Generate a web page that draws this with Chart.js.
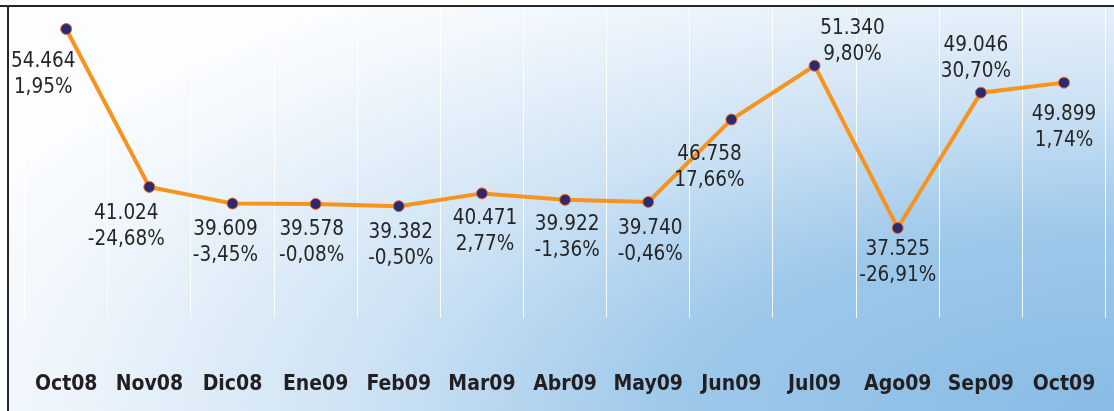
<!DOCTYPE html>
<html>
<head>
<meta charset="utf-8">
<script src="https://cdn.jsdelivr.net/npm/chart.js@4/dist/chart.umd.min.js"></script>
<style>
html,body{margin:0;padding:0;background:#fff;}
#wrap{width:1114px;height:411px;position:relative;}
</style>
</head>
<body>
<div id="wrap"><canvas id="c"></canvas></div>
<script>
const categories = ['Oct08','Nov08','Dic08','Ene09','Feb09','Mar09','Abr09','May09','Jun09','Jul09','Ago09','Sep09','Oct09'];
const values = [54464, 41024, 39609, 39578, 39382, 40471, 39922, 39740, 46758, 51340, 37525, 49046, 49899];
const changes = [1.95, -24.68, -3.45, -0.08, -0.50, 2.77, -1.36, -0.46, 17.66, 9.80, -26.91, 30.70, 1.74];

const FONT = '"DejaVu Sans Condensed", "DejaVu Sans", sans-serif';

function fmtValue(v){ return String(v).replace(/\B(?=(\d{3})+(?!\d))/g, '.'); }
function fmtPct(p){ return p.toFixed(2).replace('.', ',') + '%'; }

// label offsets (dx, dy of first line centre relative to the point) - styling only
const labelOffsets = [[-23,33],[-23,27],[-7,26],[-4,26],[2,26],[3,25],[2,25],[2,27],[-22,35],[38,-37],[0,22],[-5,-47],[0,32]];

const bgPlugin = {
  id: 'bg',
  beforeDraw(chart){
    const ctx = chart.ctx, W = chart.width, H = chart.height;
    ctx.save();
    ctx.fillStyle = '#ffffff';
    ctx.fillRect(0,0,W,H);
    ctx.beginPath();
    ctx.rect(9,7,W-9,H-7);
    ctx.clip();
    const R = 1250, s = 520 / 1250;
    ctx.translate(W, H);
    ctx.scale(1, s);
    const g = ctx.createRadialGradient(0,0,0,0,0,R);
    g.addColorStop(0, '#88bbe5');
    g.addColorStop(0.35, '#9dc8ea');
    g.addColorStop(0.6, '#cde2f4');
    g.addColorStop(0.85, '#eef5fb');
    g.addColorStop(1, '#fbfdfe');
    ctx.fillStyle = g;
    ctx.fillRect(-W-10, -H/s-10, W+20, H/s+20);
    ctx.restore();
    ctx.save();
    ctx.fillStyle = '#262626';
    ctx.fillRect(0,5,W,2);
    ctx.fillRect(7,5,2,H-5);
    ctx.restore();
  },
  afterDatasetsDraw(chart){
    const ctx = chart.ctx;
    const meta = chart.getDatasetMeta(0);
    ctx.save();
    ctx.font = '20.5px ' + FONT;
    ctx.fillStyle = '#262626';
    ctx.textAlign = 'center';
    ctx.textBaseline = 'middle';
    meta.data.forEach((pt, i) => {
      const [dx, dy] = labelOffsets[i];
      const x = pt.x + dx, y = pt.y + dy;
      ctx.fillText(fmtValue(values[i]), x, y);
      ctx.fillText(fmtPct(changes[i]), x, y + 26);
    });
    ctx.restore();
  }
};

new Chart(document.getElementById('c'), {
  type: 'line',
  data: {
    labels: categories,
    datasets: [{
      data: values,
      borderColor: '#f7941d',
      borderWidth: 4,
      tension: 0,
      pointRadius: 5.5,
      pointBackgroundColor: '#2b2a6e',
      pointBorderColor: '#ee6a2c',
      pointBorderWidth: 1,
      fill: false
    }]
  },
  options: {
    responsive: true,
    maintainAspectRatio: false,
    animation: false,
    layout: { padding: { left: 24.6, right: 8.4, top: 8, bottom: 0 } },
    plugins: { legend: { display: false }, tooltip: { enabled: false } },
    scales: {
      x: {
        offset: true,
        grid: { display: true, color: 'rgba(255,255,255,0.9)', lineWidth: 1, drawTicks: false, offset: true },
        border: { display: false },
        ticks: { color: '#231f20', font: { family: FONT, size: 21, weight: 'bold' }, padding: 54, maxRotation: 0, autoSkip: false },
        afterFit(scale){ scale.height = 93; scale.paddingLeft = 0; scale.paddingRight = 0; }
      },
      y: {
        display: false,
        min: 29864,
        max: 56252
      }
    }
  },
  plugins: [bgPlugin]
});
</script>
</body>
</html>
